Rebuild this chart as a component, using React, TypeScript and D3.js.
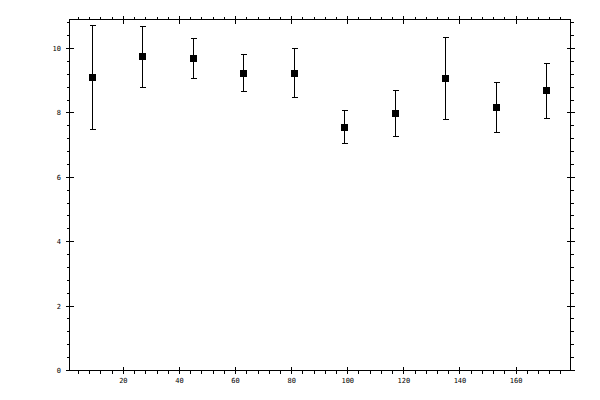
import React from "react";
import * as d3 from "d3";

const xValues = [9, 27, 45, 63, 81, 99, 117, 135, 153, 171];
const yValues = [9.1, 9.75, 9.69, 9.22, 9.22, 7.54, 7.98, 9.07, 8.17, 8.69];
const yUpper = [10.72, 10.68, 10.3, 9.81, 10.0, 8.07, 8.69, 10.33, 8.94, 9.54];
const yLower = [7.49, 8.79, 9.07, 8.66, 8.48, 7.05, 7.26, 7.8, 7.39, 7.82];
const xMajorTicks = [20, 40, 60, 80, 100, 120, 140, 160];
const yMajorTicks = [0, 2, 4, 6, 8, 10];
const xMinorStep = 4;
const yMinorStep = 0.4;

const W = 600;
const H = 400;
const L = 69.5;
const R = 570.5;
const T = 19.5;
const B = 370.5;

export default function App() {
  const x = d3.scaleLinear().domain([0.8, 179.4]).range([L, R]);
  const y = d3.scaleLinear().domain([0, 10.9]).range([B, T]);
  const px = (v: number) => Math.round(x(v) - 0.5) + 0.5;
  const py = (v: number) => Math.round(y(v) - 0.5) + 0.5;

  const xMinor = d3.range(xMinorStep, 179.4, xMinorStep).filter((v) => !xMajorTicks.includes(Math.round(v)));
  const yMinor = d3.range(yMinorStep, 10.9, yMinorStep).filter((v) => Math.abs(v / 2 - Math.round(v / 2)) > 1e-6);

  const font = { fontFamily: "DejaVu Sans Mono", fontSize: 7, fill: "#000" };
  const stroke = "#000";

  return (
    <svg width={W} height={H} style={{ position: "absolute", left: 0, top: 0, background: "#fff" }} shapeRendering="crispEdges">
      <rect x={0} y={0} width={W} height={H} fill="#fff" />
      {/* frame */}
      <rect x={L} y={T} width={R - L} height={B - T} fill="none" stroke={stroke} strokeWidth={1} />
      {/* x minor ticks */}
      {xMinor.map((v, i) => (
        <g key={"xm" + i}>
          <line x1={px(v)} x2={px(v)} y1={B} y2={B + 3} stroke={stroke} />
          <line x1={px(v)} x2={px(v)} y1={T} y2={T - 3} stroke={stroke} />
        </g>
      ))}
      {/* x major ticks */}
      {xMajorTicks.map((v, i) => (
        <g key={"xM" + i}>
          <line x1={px(v)} x2={px(v)} y1={B - 4} y2={B + 3} stroke={stroke} />
          <line x1={px(v)} x2={px(v)} y1={T - 4} y2={T + 4} stroke={stroke} />
          <text x={x(v)} y={383} textAnchor="middle" {...font}>
            {v}
          </text>
        </g>
      ))}
      {/* y minor ticks */}
      {yMinor.map((v, i) => (
        <g key={"ym" + i}>
          <line x1={L} x2={L - 3} y1={py(v)} y2={py(v)} stroke={stroke} />
          <line x1={R} x2={R + 3} y1={py(v)} y2={py(v)} stroke={stroke} />
        </g>
      ))}
      {/* y major ticks */}
      {yMajorTicks.map((v, i) => (
        <g key={"yM" + i}>
          <line x1={L - 4} x2={L + 4} y1={py(v)} y2={py(v)} stroke={stroke} />
          <line x1={R - 4} x2={R + 4} y1={py(v)} y2={py(v)} stroke={stroke} />
          <text x={61} y={y(v)} dy="0.35em" textAnchor="end" {...font}>
            {v}
          </text>
        </g>
      ))}
      {/* error bars */}
      {xValues.map((xv, i) => {
        const cx = px(xv);
        return (
          <g key={"e" + i}>
            <line x1={cx} x2={cx} y1={py(yLower[i])} y2={py(yUpper[i])} stroke={stroke} />
            <line x1={cx - 3} x2={cx + 3} y1={py(yUpper[i])} y2={py(yUpper[i])} stroke={stroke} />
            <line x1={cx - 3} x2={cx + 3} y1={py(yLower[i])} y2={py(yLower[i])} stroke={stroke} />
            <rect x={cx - 3.5} y={py(yValues[i]) - 3.5} width={7} height={7} fill="#000" />
          </g>
        );
      })}
    </svg>
  );
}
